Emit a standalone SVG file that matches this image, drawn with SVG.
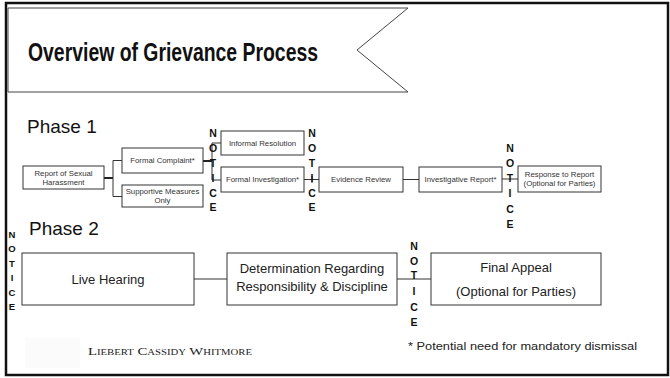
<svg xmlns="http://www.w3.org/2000/svg" width="670" height="378" viewBox="0 0 670 378">
<style>
.box{fill:#fff;stroke:#333;stroke-width:1}
.big{fill:#fff;stroke:#333;stroke-width:1}
.t{font-family:"Liberation Sans",Arial,sans-serif;font-size:7.8px;fill:#333;text-anchor:middle}
.t2{font-family:"Liberation Sans",Arial,sans-serif;font-size:13px;fill:#222;text-anchor:middle}
.ph{font-family:"Liberation Sans",Arial,sans-serif;font-size:19px;fill:#111}
.n{font-family:"Liberation Sans",Arial,sans-serif;font-size:10.5px;font-weight:bold;fill:#111;text-anchor:middle}
.ns{font-family:"Liberation Sans",Arial,sans-serif;font-size:9.5px;font-weight:bold;fill:#111;text-anchor:middle}
.c{stroke:#333;stroke-width:1;fill:none}
.ct{stroke:#222;stroke-width:2;fill:none}
</style>
<rect x="0" y="0" width="670" height="378" fill="#fff"/>
<rect x="6" y="3" width="662" height="372" fill="none" stroke="#111" stroke-width="2.5"/>
<g id="title">
<polygon points="8,8 408,8 357,50 408,92 8,92" fill="#fff" stroke="#444" stroke-width="1"/>
<text x="28" y="61" font-family="'Liberation Sans',Arial,sans-serif" font-size="25.5" font-weight="bold" fill="#111" textLength="290" lengthAdjust="spacingAndGlyphs">Overview of Grievance Process</text>
</g>
<text id="phase1" class="ph" x="27" y="133">Phase 1</text>
<text id="phase2" class="ph" x="29" y="235">Phase 2</text>
<g id="connectors">
<line class="ct" x1="104" y1="178" x2="113" y2="178"/>
<line class="c" x1="113" y1="160.5" x2="113" y2="196.5"/>
<line class="c" x1="113" y1="160.5" x2="122" y2="160.5"/>
<line class="c" x1="113" y1="196.5" x2="122" y2="196.5"/>
<line class="ct" x1="203" y1="161" x2="212" y2="161"/>
<line class="c" x1="212" y1="143" x2="212" y2="180"/>
<line class="c" x1="212" y1="143" x2="221" y2="143"/>
<line class="c" x1="212" y1="180" x2="221" y2="180"/>
<line class="c" x1="304" y1="179.5" x2="319" y2="179.5"/>
<line class="c" x1="312" y1="176" x2="312" y2="183"/>
<line class="c" x1="403" y1="179.5" x2="419" y2="179.5"/>
<line class="c" x1="502" y1="179" x2="518" y2="179"/>
<line class="c" x1="194" y1="279" x2="227" y2="279"/>
<line class="c" x1="397" y1="279" x2="431" y2="279"/>
</g>
<g id="report"><rect class="box" x="23" y="166" width="81" height="23"/><text class="t" x="63.5" y="175.5">Report of Sexual</text><text class="t" x="63.5" y="184.5">Harassment</text></g>
<g id="formal-complaint"><rect class="box" x="122" y="148" width="81" height="25"/><text class="t" x="162.5" y="163">Formal Complaint*</text></g>
<g id="supportive"><rect class="box" x="122" y="185" width="81" height="22"/><text class="t" x="162.5" y="194">Supportive Measures</text><text class="t" x="162.5" y="203">Only</text></g>
<g id="informal"><rect class="box" x="221" y="131" width="83" height="24"/><text class="t" x="262.5" y="145.5">Informal Resolution</text></g>
<g id="formal-investigation"><rect class="box" x="221" y="167" width="83" height="25"/><text class="t" x="262.5" y="182">Formal Investigation*</text></g>
<g id="evidence"><rect class="box" x="319" y="167" width="84" height="25"/><text class="t" x="361" y="182">Evidence Review</text></g>
<g id="investigative"><rect class="box" x="419" y="167" width="83" height="25"/><text class="t" x="460.5" y="182">Investigative Report*</text></g>
<g id="response"><rect class="box" x="518" y="166" width="83" height="26"/><text class="t" x="559.5" y="176.5">Response to Report</text><text class="t" x="559.5" y="186">(Optional for Parties)</text></g>
<g id="notice1">
<text class="n" x="213" y="137">N</text><text class="n" x="213" y="152">O</text><text class="n" x="213" y="167">T</text><text class="n" x="213" y="182">I</text><text class="n" x="213" y="197">C</text><text class="n" x="213" y="211">E</text>
</g>
<g id="notice2">
<text class="n" x="312" y="137">N</text><text class="n" x="312" y="152">O</text><text class="n" x="312" y="167">T</text><text class="n" x="312" y="182">I</text><text class="n" x="312" y="197">C</text><text class="n" x="312" y="211">E</text>
</g>
<g id="notice3">
<text class="n" x="510" y="152">N</text><text class="n" x="510" y="167">O</text><text class="n" x="510" y="182">T</text><text class="n" x="510" y="197">I</text><text class="n" x="510" y="212.5">C</text><text class="n" x="510" y="227.5">E</text>
</g>
<g id="notice4">
<text class="ns" x="12" y="237.5">N</text><text class="ns" x="12" y="252">O</text><text class="ns" x="12" y="266.5">T</text><text class="ns" x="12" y="281">I</text><text class="ns" x="12" y="295.5">C</text><text class="ns" x="12" y="310">E</text>
</g>
<g id="notice5">
<text class="n" x="414" y="249.5">N</text><text class="n" x="414" y="264.5">O</text><text class="n" x="414" y="279">T</text><text class="n" x="414" y="294.5">I</text><text class="n" x="414" y="310.5">C</text><text class="n" x="414" y="325.5">E</text>
</g>
<g id="live-hearing"><rect class="big" x="22" y="253" width="172" height="52"/><text class="t2" x="108" y="283.5">Live Hearing</text></g>
<g id="determination"><rect class="big" x="227" y="253" width="170" height="52"/><text class="t2" x="312" y="273">Determination Regarding</text><text class="t2" x="312" y="291">Responsibility &amp; Discipline</text></g>
<g id="final-appeal"><rect class="big" x="431" y="253" width="170" height="52"/><text class="t2" x="516" y="271.5">Final Appeal</text><text class="t2" x="516" y="296">(Optional for Parties)</text></g>
<rect x="25" y="338" width="55" height="30" fill="#fbfbfb" stroke="none"/>
<text x="88" y="355" font-family="'Liberation Serif','Times New Roman',serif" font-size="11" fill="#222" font-variant="small-caps" textLength="164" lengthAdjust="spacingAndGlyphs">Liebert Cassidy Whitmore</text>
<text x="408" y="350" font-family="'Liberation Sans',Arial,sans-serif" font-size="10" fill="#222" textLength="229" lengthAdjust="spacingAndGlyphs">* Potential need for mandatory dismissal</text>
</svg>
